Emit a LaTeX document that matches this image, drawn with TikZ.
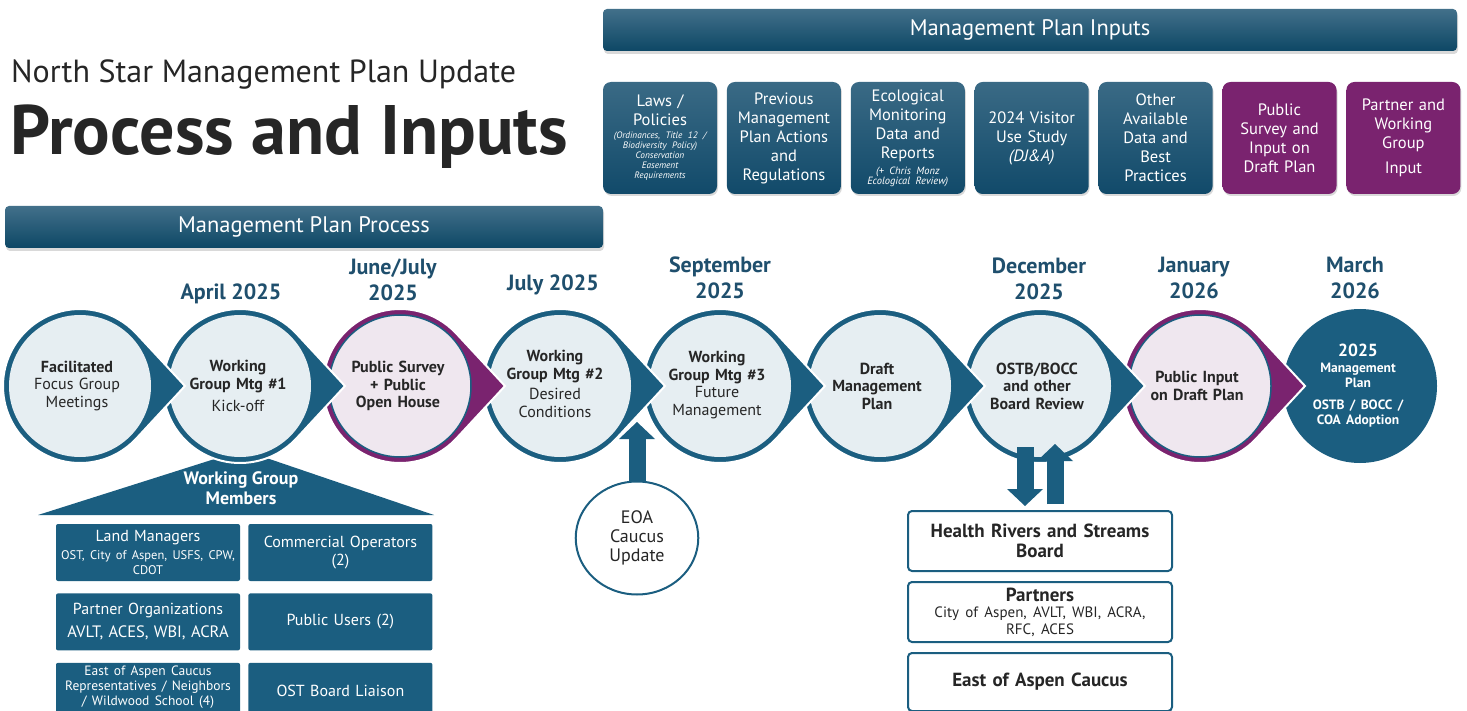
\documentclass[tikz,border=0pt]{standalone}
\usepackage{fontspec}
\setmainfont{PT Sans}
\usetikzlibrary{arrows.meta, positioning, shadows, shapes.geometric}

\definecolor{procteal}{RGB}{27,94,128}
\definecolor{procpurple}{RGB}{122,35,111}
\definecolor{circfill}{RGB}{230,238,242}
\definecolor{pinkfill}{RGB}{239,231,239}
\definecolor{datecol}{RGB}{31,79,109}
\definecolor{bantop}{RGB}{66,112,138}
\definecolor{banbot}{RGB}{13,71,101}
\definecolor{boxtop}{RGB}{58,106,133}
\definecolor{boxbot}{RGB}{17,74,106}
\definecolor{txtdark}{RGB}{38,38,38}

\tikzset{
  banner/.style={rectangle, rounded corners=4pt, top color=bantop, bottom color=banbot,
    text=white, font=\fontsize{22.5}{26}\selectfont,
    drop shadow={shadow xshift=1pt, shadow yshift=-3pt, opacity=.3}},
  inbox/.style={rectangle, rounded corners=8pt, minimum width=114pt, minimum height=112pt,
    text width=110pt, align=center, inner sep=0pt, text=white,
    top color=boxtop, bottom color=boxbot, font=\fontsize{16.5}{19}\selectfont,
    drop shadow={shadow xshift=1pt, shadow yshift=-2pt, opacity=.3}},
  inpurple/.style={inbox, top color=procpurple, bottom color=procpurple},
  datelabel/.style={text=datecol, font=\fontsize{22}{26}\selectfont\bfseries, align=center},
  circtext/.style={text=txtdark, text width=140pt, align=center, font=\fontsize{16}{17.5}\selectfont},
  wgbox/.style={rectangle, rounded corners=2pt, fill=procteal, text=white, minimum width=184pt,
    minimum height=57pt, text width=182pt, inner sep=0pt, align=center, font=\fontsize{16}{18}\selectfont},
  outbox/.style={rectangle, rounded corners=4pt, draw=procteal, line width=2pt, fill=white,
    minimum width=264pt, minimum height=60pt, text width=260pt, inner sep=0pt, align=center,
    text=txtdark, font=\fontsize{19}{20.5}\selectfont\bfseries},
  blockarrow/.style={procteal, line width=17pt, -{Triangle[width=36pt,length=17pt,line width=0pt]}}
}

\newcommand{\inote}[2][9.3]{{\fontsize{#1}{10}\selectfont\itshape #2\par}}
% one step of the process: circle with a point to the right
\newcommand{\procdrop}[3]{%
  \filldraw[fill=#2, draw=white, line width=2pt] ({#1+105},386) -- ([shift={(#1,386)}]42.8:77)
    arc[start angle=42.8, end angle=317.2, radius=77] -- cycle;
  \path[#3] (#1,386) circle[radius=71];
}

\begin{document}
\begin{tikzpicture}[x=1pt,y=-1pt]
\useasboundingbox (0,0) rectangle (1467,711);

% titles
\node[anchor=base west, inner sep=0pt, text=txtdark, font=\fontsize{32}{36}\selectfont] (subtitle) at (11,83) {North Star Management Plan Update};
\node[anchor=base west, inner sep=0pt, text=txtdark, font=\fontsize{70}{76}\selectfont\bfseries] (title) at (10,155) {Process and Inputs};

% banners
\node[banner, minimum width=854pt, minimum height=42pt] (inputs) at (1030,30) {Management Plan Inputs};
\node[banner, minimum width=598pt, minimum height=42pt] (process) at (304,227) {Management Plan Process};

% inputs
\node[inbox] (inlaws) at (660,138) {Laws /\\Policies\par\vspace{3pt}\inote{(Ordinances, Title 12 /\\Biodiversity Policy)\\Conservation\\Easement\\Requirements}};
\node[inbox, right=9.5pt of inlaws] (inprev) {Previous\\Management\\Plan Actions\\and\\Regulations};
\node[inbox, right=9.5pt of inprev] (ineco) {Ecological\\Monitoring\\Data and\\Reports\par\vspace{4pt}\inote[10.5]{(+ Chris Monz\\Ecological Review)}};
\node[inbox, right=9.5pt of ineco] (invisit) {2024 Visitor\\Use Study\\\textit{(DJ\&A)}};
\node[inbox, right=9.5pt of invisit] (inother) {Other\\Available\\Data and\\Best\\Practices};
\node[inpurple, right=9.5pt of inother] (insurvey) {Public\\Survey and\\Input on\\Draft Plan};
\node[inpurple, right=9.5pt of insurvey] (inpartner) {Partner and\\Working\\Group\\[6pt]Input};

% working group roof
\fill[procteal] (38,515) -- (243,450) -- (434,515) -- cycle;

% process steps, drawn right to left so each point lies on top
\fill[procteal] (1360,386) circle[radius=77];
\procdrop{1200}{procpurple}{fill=pinkfill, draw=procteal, line width=1.5pt}
\procdrop{1040}{procteal}{fill=circfill}
\procdrop{880}{procteal}{fill=circfill}
\procdrop{720}{procteal}{fill=circfill}
\procdrop{560}{procteal}{fill=circfill}
\procdrop{400}{procpurple}{fill=pinkfill, draw=procteal, line width=1.5pt}
\procdrop{240}{procteal}{fill=circfill}
\procdrop{80}{procteal}{fill=circfill}

\node[circtext] (facil) at (77,386) {\textbf{Facilitated}\\Focus Group\\Meetings};
\node[circtext] (wgone) at (238,386) {\textbf{Working}\\\textbf{Group Mtg \#1}\\[5pt]Kick-off};
\node[circtext] (survey) at (398,386) {\bfseries Public Survey\\+ Public\\Open House};
\node[circtext] (wgtwo) at (555,384) {\textbf{Working}\\\textbf{Group Mtg \#2}\\[3pt]Desired\\Conditions};
\node[circtext] (wgthree) at (717,385) {\textbf{Working}\\\textbf{Group Mtg \#3}\\Future\\Management};
\node[circtext] (draft) at (877,386) {\bfseries Draft\\Management\\Plan};
\node[circtext] (review) at (1037,386) {\bfseries OSTB/BOCC\\and other\\Board Review};
\node[circtext] (pubinput) at (1197,386) {\bfseries Public Input\\on Draft Plan};
\node[circtext, text=white] (adopt) at (1358,386) {{\fontsize{17.5}{20}\selectfont\bfseries 2025\par}{\fontsize{13.5}{15.5}\selectfont\bfseries Management\\Plan\par}\vspace{6pt}{\fontsize{13.5}{15.5}\selectfont\bfseries OSTB / BOCC /\\COA Adoption\par}};

% dates
\node[datelabel] (dapr) at (231,294) {April 2025};
\node[datelabel] (djun) at (393,280) {June/July\\2025};
\node[datelabel] (djul) at (553,285) {July 2025};
\node[datelabel] (dsep) at (720,278) {September\\2025};
\node[datelabel] (ddec) at (1039,279) {December\\2025};
\node[datelabel] (djan) at (1194,278) {January\\2026};
\node[datelabel] (dmar) at (1355,278) {March\\2026};

% working group members
\node[text=white, align=center, font=\fontsize{18}{20}\selectfont\bfseries] (wgm) at (241,488) {Working Group\\Members};
\node[wgbox] (wgland) at (148,552.5) {Land Managers\par\vspace{3pt}{\fontsize{12.5}{15}\selectfont OST, City of Aspen, USFS, CPW,\\CDOT\par}};
\node[wgbox, right=8pt of wgland] (wgcomm) {Commercial Operators\\(2)};
\node[wgbox, below=12pt of wgland] (wgpartner) {Partner Organizations\par\vspace{5pt}{\fontsize{16.5}{18}\selectfont AVLT, ACES, WBI, ACRA\par}};
\node[wgbox, right=8pt of wgpartner] (wgpublic) {Public Users (2)};
\node[wgbox, below=12pt of wgpartner] (wgeast) {{\fontsize{13.5}{15}\selectfont East of Aspen Caucus\\Representatives / Neighbors\\/ Wildwood School (4)\par}\vspace{9pt}};
\node[wgbox, right=8pt of wgeast] (wgboard) {OST Board Liaison};

% caucus update
\node[ellipse, draw=procteal, line width=2pt, fill=white, minimum width=112pt, minimum height=113pt,
  text width=80pt, align=center, text=txtdark, font=\fontsize{18}{19}\selectfont] (eoa) at (637,538) {EOA\\Caucus\\Update};
\coordinate (eoatip) at (637,422);
\draw[blockarrow] (eoa.north) -- (eoatip);

% boards
\node[outbox] (hrsb) at (1040,541) {Health Rivers and Streams\\Board};
\node[outbox, below=9pt of hrsb] (partners) {Partners\par{\fontsize{15}{16.5}\selectfont\mdseries City of Aspen, AVLT, WBI, ACRA,\\RFC, ACES\par}};
\node[outbox, below=9pt of partners, minimum height=58pt] (eoac) {East of Aspen Caucus};

\coordinate (revdown) at (1025,447);
\coordinate (revup) at (1055,444);
\draw[blockarrow, shorten >=4pt] (revdown) -- (revdown |- hrsb.north);
\draw[blockarrow, shorten <=6pt] (revup |- hrsb.north) -- (revup);
\end{tikzpicture}
\end{document}
